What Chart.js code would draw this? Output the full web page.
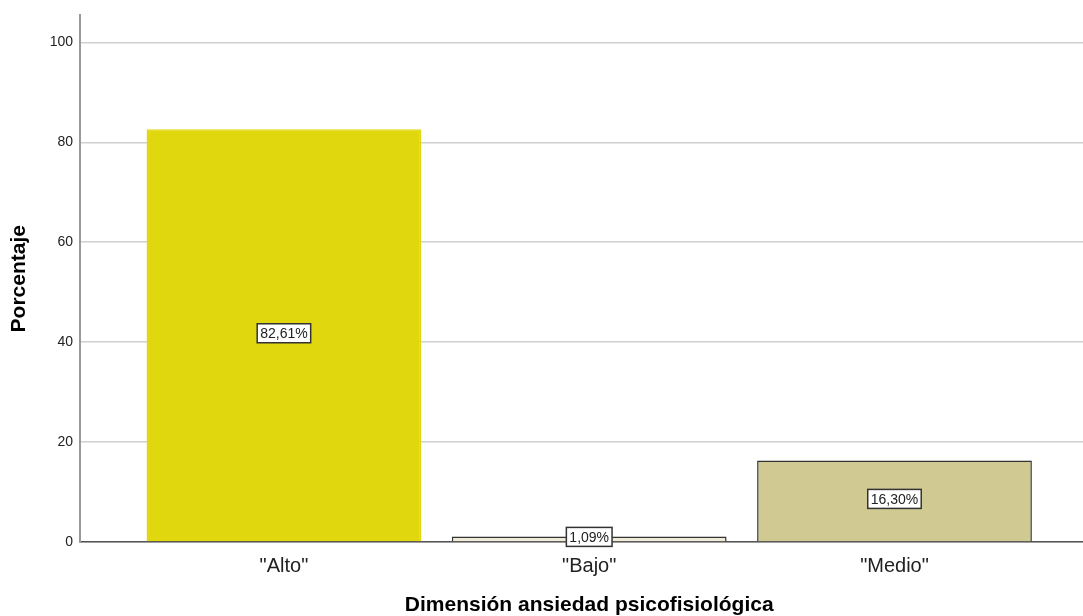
<!DOCTYPE html>
<html>
<head>
<meta charset="utf-8">
<script src="https://cdn.jsdelivr.net/npm/chart.js@4/dist/chart.umd.min.js"></script>
<style>
  html, body { margin: 0; padding: 0; background: #fff; }
  #wrap { width: 1083px; height: 616px; position: relative; }
</style>
</head>
<body>
<div id="wrap"><canvas id="chart"></canvas></div>
<script>
// datos
const categorias = ['"Alto"', '"Bajo"', '"Medio"'];
const porcentajes = [82.61, 1.09, 16.30];
const colores = ['#e1d70e', '#f0ebd8', '#d0c991'];
const bordes = ['#e1d70e', '#333333', '#333333'];
const yTicks = [0, 20, 40, 60, 80, 100];
const tituloX = 'Dimensión ansiedad psicofisiológica';

const FONT = '"Liberation Sans", Arial, sans-serif';

// etiquetas con caja blanca en el centro de cada barra + titulo del eje x
const etiquetas = {
    id: 'etiquetas',
    afterDatasetsDraw(chart) {
        const ctx = chart.ctx;
        const meta = chart.getDatasetMeta(0);
        ctx.save();
        ctx.font = '14px ' + FONT;
        ctx.textAlign = 'center';
        ctx.textBaseline = 'middle';
        meta.data.forEach((bar, i) => {
            const txt = porcentajes[i].toFixed(2).replace('.', ',') + '%';
            const w = ctx.measureText(txt).width + 6;
            const h = 19;
            const cy = (bar.y + bar.base) / 2 - 2;
            ctx.fillStyle = '#fff';
            ctx.fillRect(bar.x - w / 2, cy - h / 2, w, h);
            ctx.strokeStyle = '#333';
            ctx.lineWidth = 1.5;
            ctx.strokeRect(bar.x - w / 2, cy - h / 2, w, h);
            ctx.fillStyle = '#222';
            ctx.fillText(txt, bar.x, cy + 1);
        });
        // titulo del eje x centrado en las barras
        const xs = meta.data.map(b => b.x);
        ctx.font = 'bold 21px ' + FONT;
        ctx.fillStyle = '#000';
        ctx.fillText(tituloX, (xs[0] + xs[xs.length - 1]) / 2, 605);
        ctx.restore();
    }
};

new Chart(document.getElementById('chart'), {
    type: 'bar',
    data: {
        datasets: [{
            data: porcentajes.map((v, i) => ({ x: i, y: v })),
            backgroundColor: colores,
            borderColor: bordes,
            borderWidth: 1.5,
            barPercentage: 0.9,
            categoryPercentage: 1
        }]
    },
    options: {
        responsive: true,
        maintainAspectRatio: false,
        animation: false,
        layout: { padding: { top: 15, right: 0, bottom: 0, left: 0 } },
        plugins: { legend: { display: false }, tooltip: { enabled: false } },
        scales: {
            x: {
                type: 'linear',
                offset: false,
                bounds: 'data',
                min: -0.668,
                max: 2.6175,
                afterBuildTicks: s => { s.ticks = [0, 1, 2].map(v => ({ value: v })); },
                afterFit: s => { s.height = 74; },
                grid: { display: false, drawTicks: false, offset: false },
                border: { color: '#555', width: 1.5 },
                ticks: {
                    stepSize: 1,
                    padding: 12,
                    color: '#222',
                    font: { family: FONT, size: 20 },
                    callback: v => categorias[v]
                }
            },
            y: {
                min: 0,
                max: 105.4,
                afterBuildTicks: s => { s.ticks = yTicks.map(v => ({ value: v })); },
                afterFit: s => { s.width = 80; },
                grid: { color: '#cfcfcf', lineWidth: 1.5, drawTicks: false },
                border: { color: '#999', width: 2 },
                ticks: {
                    padding: 7,
                    color: '#222',
                    font: { family: FONT, size: 14 }
                },
                title: {
                    display: true,
                    text: 'Porcentaje',
                    color: '#000',
                    font: { family: FONT, size: 21, weight: 'bold' },
                    padding: { top: 7, bottom: 0 }
                }
            }
        }
    },
    plugins: [etiquetas]
});
</script>
</body>
</html>
